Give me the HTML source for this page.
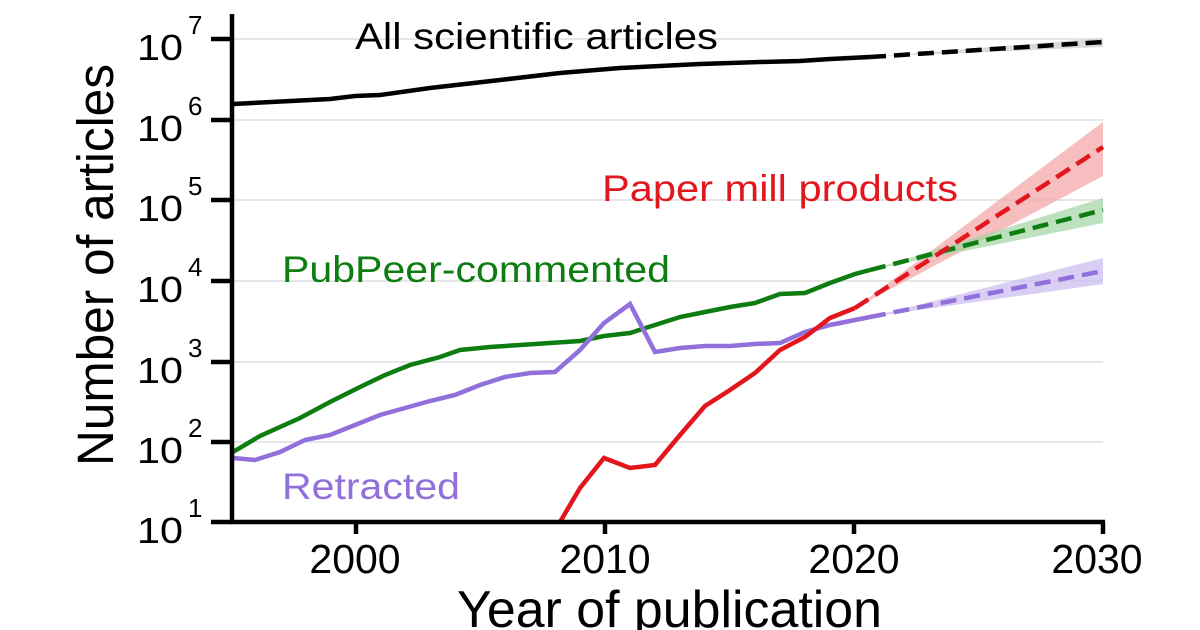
<!DOCTYPE html>
<html><head><meta charset="utf-8"><style>
html,body{margin:0;padding:0;background:#fff;}
svg{display:block;font-family:"Liberation Sans",Arial,sans-serif;}
</style></head><body>
<svg width="1200" height="630" viewBox="0 0 1200 630" xmlns="http://www.w3.org/2000/svg">
<rect width="1200" height="630" fill="#fff"/>
<g stroke="#e6e6e6" stroke-width="2">
<line x1="233" y1="39" x2="1103" y2="39"/>
<line x1="233" y1="120" x2="1103" y2="120"/>
<line x1="233" y1="200" x2="1103" y2="200"/>
<line x1="233" y1="281" x2="1103" y2="281"/>
<line x1="233" y1="362" x2="1103" y2="362"/>
<line x1="233" y1="442" x2="1103" y2="442"/>
</g>
<polygon points="855,308 1103,122 1103,176" fill="#f4a3a5" opacity="0.7"/>
<polygon points="870,270 1103,198 1103,223" fill="#9fd49f" opacity="0.7"/>
<polygon points="870,317 1103,258 1103,284" fill="#c9baf0" opacity="0.7"/>
<polygon points="870,57 1103,38 1103,47" fill="#ccc" opacity="0.7"/>
<polyline fill="none" stroke="#000" stroke-width="4.5" points="233,104 330,99 355,96 380,95 430,88 500,80 560,73 620,68 700,64 760,62 800,61 830,59 870,57"/>
<line x1="870" y1="57" x2="1103" y2="42" stroke="#000" stroke-width="4.5" stroke-dasharray="16,8"/>
<polyline fill="none" stroke="#0d7d12" stroke-width="4.5" points="233,452 260,436 300,418 330,402 358,388 385,375 410,365 440,357 460,350 490,347 520,345 550,343 580,341 604,336 630,333 655,325 680,317 705,312 730,307 755,303 780,294 805,293 830,283 855,274 870,270"/>
<line x1="870" y1="270" x2="1103" y2="210" stroke="#0d7d12" stroke-width="4.5" stroke-dasharray="16,8"/>
<polyline fill="none" stroke="#9170dc" stroke-width="4.5" points="233,458 255,460 280,452 305,440 330,435 355,425 380,415 405,408 430,401 455,395 480,385 505,377 530,373 555,372 580,350 604,323 630,304 655,352 680,348 705,346 730,346 755,344 780,343 805,332 830,325 855,320 870,317"/>
<line x1="870" y1="317" x2="1103" y2="271" stroke="#9170dc" stroke-width="4.5" stroke-dasharray="16,8"/>
<polyline fill="none" stroke="#e2161c" stroke-width="4.5" points="560,522 580,488 604,458 630,468 655,465 680,435 705,406 730,390 755,373 780,350 805,337 830,318 855,308"/>
<line x1="855" y1="308" x2="1103" y2="147" stroke="#e2161c" stroke-width="4.5" stroke-dasharray="16,8"/>
<line x1="232" y1="14" x2="232" y2="524" stroke="#000" stroke-width="4.5"/>
<line x1="230" y1="522" x2="1105" y2="522" stroke="#000" stroke-width="4.5"/>
<g stroke="#000" stroke-width="4.5">
<line x1="211" y1="39" x2="232" y2="39"/><line x1="211" y1="120" x2="232" y2="120"/>
<line x1="211" y1="200" x2="232" y2="200"/><line x1="211" y1="281" x2="232" y2="281"/>
<line x1="211" y1="362" x2="232" y2="362"/><line x1="211" y1="442" x2="232" y2="442"/>
<line x1="211" y1="522" x2="232" y2="522"/>
<line x1="356" y1="522" x2="356" y2="534"/><line x1="605" y1="522" x2="605" y2="534"/>
<line x1="854" y1="522" x2="854" y2="534"/><line x1="1103" y1="522" x2="1103" y2="534"/>
</g>
<g font-size="36" fill="#000">
<text x="137" y="60" textLength="46" lengthAdjust="spacingAndGlyphs">10</text>
<text x="137" y="141" textLength="46" lengthAdjust="spacingAndGlyphs">10</text>
<text x="137" y="221" textLength="46" lengthAdjust="spacingAndGlyphs">10</text>
<text x="137" y="302" textLength="46" lengthAdjust="spacingAndGlyphs">10</text>
<text x="137" y="383" textLength="46" lengthAdjust="spacingAndGlyphs">10</text>
<text x="137" y="463" textLength="46" lengthAdjust="spacingAndGlyphs">10</text>
<text x="137" y="543" textLength="46" lengthAdjust="spacingAndGlyphs">10</text>
</g>
<g font-size="26" fill="#000">
<text x="188" y="34">7</text><text x="188" y="115">6</text><text x="188" y="195">5</text>
<text x="188" y="276">4</text><text x="188" y="357">3</text><text x="188" y="437">2</text><text x="188" y="517">1</text>
</g>
<g font-size="41" fill="#000" text-anchor="middle">
<text x="355" y="573">2000</text><text x="605" y="573">2010</text>
<text x="854" y="573">2020</text><text x="1097" y="573">2030</text>
</g>
<text x="457" y="627" font-size="52" textLength="425" lengthAdjust="spacingAndGlyphs">Year of publication</text>
<text transform="translate(113,466) rotate(-90)" font-size="51" textLength="402" lengthAdjust="spacingAndGlyphs">Number of articles</text>
<text x="355" y="49" font-size="37" textLength="363" lengthAdjust="spacingAndGlyphs" fill="#000">All scientific articles</text>
<text x="602" y="201" font-size="37" textLength="356" lengthAdjust="spacingAndGlyphs" fill="#e2161c">Paper mill products</text>
<text x="282" y="282" font-size="37" textLength="388" lengthAdjust="spacingAndGlyphs" fill="#0d7d12">PubPeer-commented</text>
<text x="282" y="499" font-size="37" textLength="178" lengthAdjust="spacingAndGlyphs" fill="#9170dc">Retracted</text>
</svg>
</body></html>
